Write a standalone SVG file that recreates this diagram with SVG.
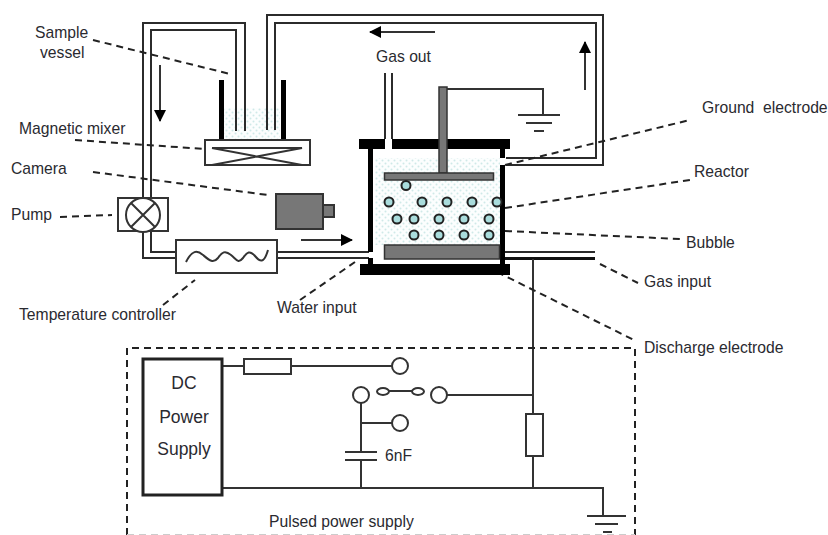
<svg xmlns="http://www.w3.org/2000/svg" width="828" height="535" viewBox="0 0 828 535">
<style>
.l{fill:none;stroke:#333;stroke-width:2}
.p{fill:none;stroke:#2b2b2b;stroke-width:2}
.d{fill:none;stroke:#222;stroke-width:2;stroke-dasharray:7 5}
.w{fill:#fff;stroke:#333;stroke-width:2}
.k{fill:#000}
.g{fill:#777;stroke:#333;stroke-width:1.5}
.b{fill:#a9dcdc;stroke:#222;stroke-width:2}
text{font-family:"Liberation Sans",Arial,sans-serif;font-size:15.700px;fill:#2a2a30;white-space:pre}
.big{font-size:17.500px;text-anchor:middle}
</style>
<defs>
<pattern id="dots" width="6" height="6" patternUnits="userSpaceOnUse">
<rect width="6" height="6" fill="#fcfefe"/>
<circle cx="1.500" cy="1.500" r="1" fill="#cfe9e8"/>
<circle cx="4.500" cy="4.500" r="1" fill="#cfe9e8"/>
</pattern>
<marker id="ah" markerWidth="12" markerHeight="12" refX="11" refY="6" orient="auto" markerUnits="userSpaceOnUse">
<path d="M0 0L12 6L0 12Z" fill="#000"/>
</marker>
</defs>
<rect width="828" height="535" fill="#fff"/>

<g id="connectors">
<path class="p" d="M143 198V23H245V131M151 198V30H236V131"/>
<path class="p" d="M267 130V15H603V165H506M275 130V23H596V158H506"/>
<path class="p" d="M143 231V258H176M151 231V252H176"/>
<path class="p" d="M277 252H369M277 258H369"/>
<path class="p" d="M385 73V139M392 73V139"/>
<path class="p" d="M505 252H595"/>
<path d="M505 258.500H595" fill="none" stroke="#111" stroke-width="3"/>
<path class="l" d="M160 65V121" marker-end="url(#ah)"/>
<path class="l" d="M435 32H370" marker-end="url(#ah)"/>
<path class="l" d="M585 90V42" marker-end="url(#ah)"/>
<path class="l" d="M301 240H352" marker-end="url(#ah)"/>
<path class="l" d="M443 89H543V115"/>
<path class="l" d="M518 115H560M526 123H552M534 131H544"/>
<path class="l" d="M533 259V414M533 456V488M222 488H603V516"/>
<path class="l" d="M587 516H626M595 524H618M603 532H612" />
<path class="l" d="M222 366H244M291 366H392"/>
<path class="l" d="M361 403V452M361 460V488M361 423H392"/>
<path class="l" d="M345 452H377M345 460H377"/>
<path class="l" d="M447 395H533M389 391H412"/>
<path class="d" d="M93 40L230 74"/>
<path class="d" d="M75 140L205 149"/>
<path class="d" d="M93 172L268 195"/>
<path class="d" d="M60 217L112 215"/>
<path class="d" d="M163 305L195 280"/>
<path class="d" d="M300 300L355 262"/>
<path class="d" d="M505 165L690 120"/>
<path class="d" d="M505 208L690 180"/>
<path class="d" d="M505 231L680 239"/>
<path class="d" d="M600 264L638 283"/>
<path class="d" d="M497 272L634 340"/>
<path class="d" d="M127 535V348H635V535"/>
<path d="M127 534.500H635" fill="none" stroke="#ccc" stroke-width="1" stroke-dasharray="7 5"/>
</g>

<g id="sample-vessel">
<rect x="224" y="108" width="56" height="31" fill="url(#dots)"/>
<path class="p" d="M236 100V131M245 100V131M267 100V130M275 100V130"/>
<rect class="k" x="219" y="80" width="5" height="60"/>
<rect class="k" x="281" y="80" width="5" height="60"/>
</g>
<g id="magnetic-mixer">
<rect class="w" x="205" y="140" width="105" height="25"/>
<path class="l" d="M212 148H302L212 165M212 148L302 165"/>
</g>
<g id="camera">
<rect x="276" y="194" width="47" height="35" fill="#777" stroke="#333" stroke-width="2"/>
<rect x="323" y="205" width="11" height="12" fill="#777" stroke="#333" stroke-width="2"/>
</g>
<g id="pump">
<rect class="w" x="118" y="198" width="50" height="33"/>
<circle class="w" cx="143" cy="215" r="17"/>
<path class="l" d="M131 203L155 227M155 203L131 227"/>
</g>
<g id="temperature-controller">
<rect class="w" x="176" y="240" width="101" height="33"/>
<path class="l" d="M186 262C192 250 197 250 203 255S213 264 218 258C222 252 225 250 231 255S238 264 243 258C247 252 250 250 255 256S264 264 268 250"/>
</g>
<g id="reactor">
<rect x="375" y="158" width="125" height="87" fill="url(#dots)"/>
<rect class="k" x="359" y="139" width="26" height="10"/>
<rect class="k" x="392" y="139" width="118" height="10"/>
<rect class="k" x="360" y="264" width="150" height="11"/>
<rect class="k" x="368" y="149" width="5" height="103"/>
<rect class="k" x="368" y="258" width="5" height="6"/>
<rect class="k" x="500" y="149" width="5" height="9"/>
<rect class="k" x="500" y="165" width="5" height="99"/>
<rect class="g" x="439" y="87" width="8" height="86"/>
<rect class="g" x="384.500" y="173" width="109" height="7"/>
<rect class="g" x="384.500" y="245" width="115" height="14"/>
<circle class="b" cx="406" cy="185.500" r="4.500"/>
<circle class="b" cx="389" cy="202" r="4.500"/>
<circle class="b" cx="422" cy="202" r="4.500"/>
<circle class="b" cx="447" cy="202" r="4.500"/>
<circle class="b" cx="472" cy="202" r="4.500"/>
<circle class="b" cx="497" cy="202" r="4.500"/>
<circle class="b" cx="397" cy="219" r="4.500"/>
<circle class="b" cx="414" cy="219" r="4.500"/>
<circle class="b" cx="439" cy="219" r="4.500"/>
<circle class="b" cx="464" cy="219" r="4.500"/>
<circle class="b" cx="489" cy="219" r="4.500"/>
<circle class="b" cx="414" cy="235" r="4.500"/>
<circle class="b" cx="439" cy="235" r="4.500"/>
<circle class="b" cx="464" cy="235" r="4.500"/>
<circle class="b" cx="489" cy="235" r="4.500"/>
</g>
<g id="dc-power-supply">
<rect x="143" y="359" width="79" height="136" fill="#fff" stroke="#222" stroke-width="3"/>
<text class="big" x="184" y="389">DC</text>
<text class="big" x="184" y="423">Power</text>
<text class="big" x="184" y="455">Supply</text>
</g>
<g id="resistor-1"><rect class="w" x="244" y="359" width="47" height="15"/></g>
<g id="resistor-2"><rect class="w" x="526" y="414" width="17" height="42"/></g>
<g id="switch">
<circle class="w" cx="400" cy="366" r="8"/>
<circle class="w" cx="361" cy="395" r="8"/>
<circle class="w" cx="400" cy="423" r="8"/>
<circle class="w" cx="439" cy="395" r="8"/>
<ellipse class="w" cx="383" cy="391.500" rx="6" ry="3.500"/>
<ellipse class="w" cx="418" cy="391.500" rx="6" ry="3.500"/>
</g>

<g id="labels">
<text x="35" y="38">Sample</text>
<text x="40" y="58">vessel</text>
<text x="19" y="134">Magnetic mixer</text>
<text x="11" y="174">Camera</text>
<text x="11" y="220">Pump</text>
<text x="19" y="320">Temperature controller</text>
<text x="277" y="313">Water input</text>
<text x="376" y="62">Gas out</text>
<text x="702" y="113">Ground  electrode</text>
<text x="694" y="177">Reactor</text>
<text x="686" y="248">Bubble</text>
<text x="644" y="287">Gas input</text>
<text x="644" y="353">Discharge electrode</text>
<text x="385" y="461">6nF</text>
<text x="269" y="527">Pulsed power supply</text>
</g>
</svg>
